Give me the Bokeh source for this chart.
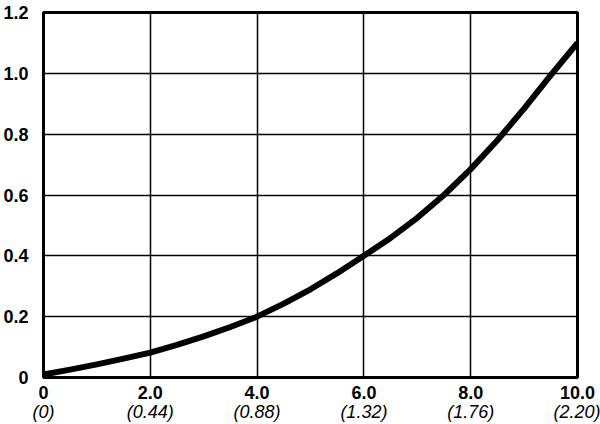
from bokeh.plotting import figure
from bokeh.models import FixedTicker, LinearAxis, Range1d
from bokeh.embed import file_html
from bokeh.resources import INLINE

# Data
x_vals = [0, 0.5, 1, 1.5, 2, 2.5, 3, 3.5, 4, 4.5, 5,
          5.5, 6, 6.5, 7, 7.5, 8, 8.5, 9, 9.5, 10]
y_vals = [0.01, 0.026, 0.043, 0.062, 0.082, 0.107, 0.135, 0.166, 0.20, 0.243, 0.29,
          0.343, 0.40, 0.459, 0.525, 0.60, 0.685, 0.78, 0.884, 0.994, 1.10]

x_ticks = [0, 2, 4, 6, 8, 10]
x_tick_labels = ["0", "2.0", "4.0", "6.0", "8.0", "10.0"]
x_sub_labels = ["(0)", "(0.44)", "(0.88)", "(1.32)", "(1.76)", "(2.20)"]
y_ticks = [0, 0.2, 0.4, 0.6, 0.8, 1.0, 1.2]
y_tick_labels = ["0", "0.2", "0.4", "0.6", "0.8", "1.0", "1.2"]

FONT = "Liberation Sans"
FS = "18px"

p = figure(width=600, height=424, output_backend="svg", toolbar_location=None,
           x_range=Range1d(0, 10), y_range=Range1d(0, 1.2),
           min_border_left=40, min_border_right=23, min_border_top=12,
           min_border_bottom=0, x_axis_location=None, y_axis_location=None)

p.background_fill_color = "white"
p.border_fill_color = "white"
p.outline_line_color = "black"
p.outline_line_width = 3


def style_axis(ax, standoff, font_style):
    ax.axis_line_color = None
    ax.major_tick_line_color = None
    ax.minor_tick_line_color = None
    ax.major_tick_out = 0
    ax.major_tick_in = 0
    ax.major_label_standoff = standoff
    ax.major_label_text_font = FONT
    ax.major_label_text_font_style = font_style
    ax.major_label_text_font_size = FS
    ax.major_label_text_color = "black"


# y axis
yax = LinearAxis(ticker=FixedTicker(ticks=y_ticks))
yax.major_label_overrides = {t: l for t, l in zip(y_ticks, y_tick_labels)}
style_axis(yax, 15, "bold")
p.add_layout(yax, "left")

# x axis (bold values)
xax = LinearAxis(ticker=FixedTicker(ticks=x_ticks))
xax.major_label_overrides = {t: l for t, l in zip(x_ticks, x_tick_labels)}
style_axis(xax, 8, "bold")
p.add_layout(xax, "below")

# x axis (italic secondary values)
xax2 = LinearAxis(ticker=FixedTicker(ticks=x_ticks))
xax2.major_label_overrides = {t: l for t, l in zip(x_ticks, x_sub_labels)}
style_axis(xax2, 0, "italic")
p.add_layout(xax2, "below")

# grids
p.xgrid.ticker = FixedTicker(ticks=x_ticks)
p.ygrid.ticker = FixedTicker(ticks=y_ticks)
for g in (p.xgrid, p.ygrid):
    g.grid_line_color = "black"
    g.grid_line_width = 1.5
    g.grid_line_alpha = 1.0

p.line(x_vals, y_vals, line_color="black", line_width=6,
       line_join="round", line_cap="butt")

open("out.html", "w").write(file_html(p, INLINE))
